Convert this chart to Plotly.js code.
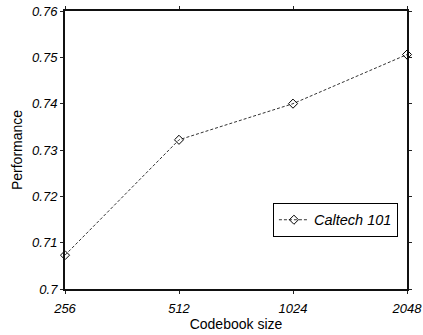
<!DOCTYPE html>
<html><head><meta charset="utf-8">
<script src="https://cdn.plot.ly/plotly-3.0.1.min.js"></script>
<style>html,body{margin:0;padding:0;background:#fff}#c{width:423px;height:335px}</style>
</head><body><div id="c"></div>
<script>
const codebookSizes = ["256", "512", "1024", "2048"];
const caltech101 = [0.7073, 0.7322, 0.7400, 0.7506];
const yTicks = [0.70, 0.71, 0.72, 0.73, 0.74, 0.75, 0.76];
const yTickText = ["0.7", "0.71", "0.72", "0.73", "0.74", "0.75", "0.76"];
const seriesName = "Caltech 101";

const trace = {
  x: codebookSizes, y: caltech101, name: seriesName,
  type: "scatter", mode: "lines+markers",
  line: {color: "#333", width: 1, dash: "3px,2px"},
  marker: {symbol: "diamond-open", size: 7, color: "#000", line: {width: 1, color: "#000"}},
  cliponaxis: false
};
const font = {family: "Liberation Sans, Arial, sans-serif", color: "#000"};
const layout = {
  width: 423, height: 335,
  margin: {l: 65, r: 16, t: 11, b: 46},
  paper_bgcolor: "#fff", plot_bgcolor: "#fff",
  font: Object.assign({size: 13}, font),
  showlegend: true,
  legend: {x: 0.608, y: 0.31, xanchor: "left", yanchor: "top",
    bordercolor: "#000", borderwidth: 1, bgcolor: "#fff",
    font: Object.assign({size: 14.5, style: "italic"}, font),
    itemwidth: 30},
  xaxis: {type: "category", range: [0, 3], showgrid: false, zeroline: false,
    showline: true, linecolor: "#111", linewidth: 2, mirror: "ticks",
    ticks: "outside", ticklen: 3, tickcolor: "#222", tickwidth: 1,
    ticklabelstandoff: 3,
    tickfont: Object.assign({size: 13, style: "italic"}, font),
    title: {text: "Codebook size", font: Object.assign({size: 14}, font), standoff: 3}},
  yaxis: {range: [0.70, 0.76], showgrid: false, zeroline: false,
    tickvals: yTicks, ticktext: yTickText,
    showline: true, linecolor: "#111", linewidth: 2, mirror: "ticks",
    ticks: "outside", ticklen: 3, tickcolor: "#222", tickwidth: 1,
    tickfont: Object.assign({size: 13, style: "italic"}, font),
    title: {text: "Performance", font: Object.assign({size: 14}, font), standoff: 6}}
};
Plotly.newPlot("c", [trace], layout, {staticPlot: true, displayModeBar: false});
</script></body></html>
